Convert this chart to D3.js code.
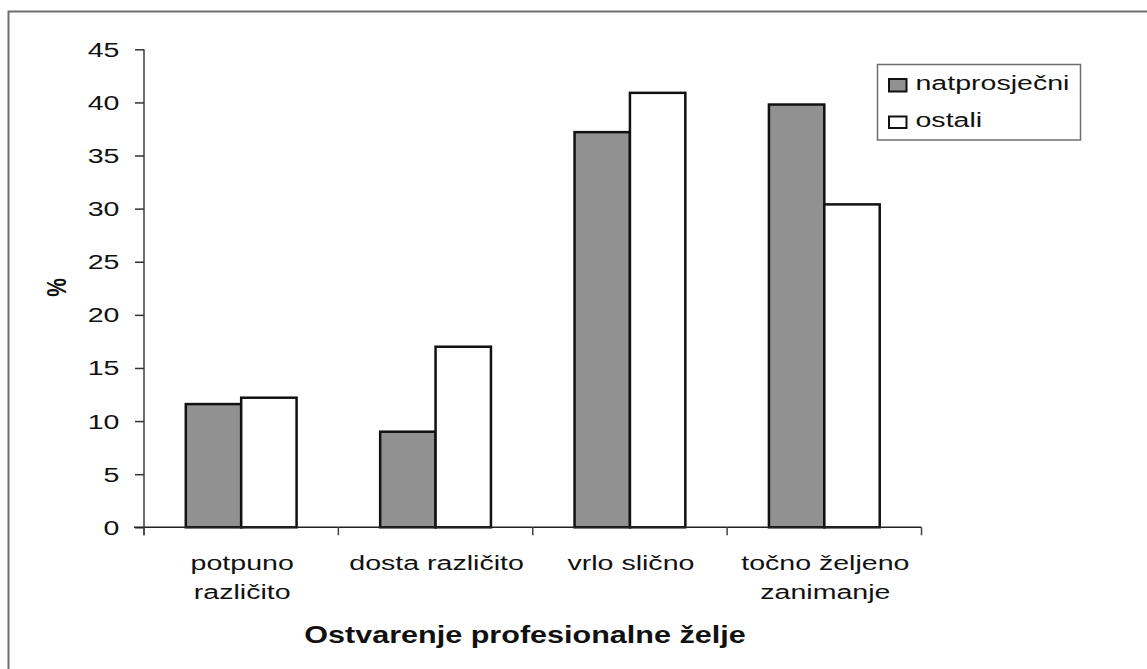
<!DOCTYPE html>
<html><head><meta charset="utf-8">
<script src="https://cdn.jsdelivr.net/npm/d3@7"></script>
<style>body{margin:0;background:#fff}text{font-family:"Liberation Sans",Arial,sans-serif}</style>
</head><body><svg id="c" width="1147" height="669"></svg>
<script>
const categories = [["potpuno","različito"],["dosta različito"],["vrlo slično"],["točno željeno","zanimanje"]];
const seriesNames = ["natprosječni","ostali"];
const natprosjecni = [11.6, 9.0, 37.2, 39.8];
const ostali = [12.2, 17.0, 40.9, 30.4];
const yTicks = [0,5,10,15,20,25,30,35,40,45];
const colors = ["#919191","#ffffff"];

(function(){
const SX = 1.36; // horizontal stretch of the original rendering
const svg = d3.select("#c");
svg.append("rect").attr("x",8.5).attr("y",11.5).attr("width",1160).attr("height",700)
  .attr("fill","#fff").attr("stroke","#6e6e6e").attr("stroke-width",2);

const pl=144, pr=921.5, pt=49.3, pb=527.3;
const x = d3.scaleBand().domain(d3.range(categories.length)).range([pl,pr]);
const y = d3.scaleLinear().domain([0,45]).range([pb,pt]);
const xs = d3.scaleBand().domain([0,1]).range([0, x.bandwidth()*0.57]);

function stext(g, tx, ty, str, opts){
  const t = g.append("text").attr("transform",`translate(${tx},${ty}) scale(${opts.sx||SX},1)`)
    .attr("text-anchor",opts.anchor||"start").attr("font-size",opts.size||21)
    .attr("font-weight",opts.weight||"normal").attr("fill","#111").text(str);
  if(opts.ls) t.attr("letter-spacing",opts.ls);
  return t;
}

// y axis
const ya = svg.append("g").attr("transform",`translate(${pl},0)`)
  .call(d3.axisLeft(y).tickValues(yTicks).tickSize(9).tickFormat(""));
ya.select(".domain").attr("stroke","#6e6e6e").attr("stroke-width",2).attr("d",`M0,${pt}V${pb+8}`);
ya.selectAll(".tick line").attr("stroke","#333").attr("stroke-width",1.5);
yTicks.forEach(v=> stext(svg, 119.5, y(v)+7.5, String(v), {anchor:"end", size:21}));

// bars
const series=[natprosjecni,ostali];
series.forEach((vals,si)=>{
  svg.append("g").selectAll("rect").data(vals).join("rect")
    .attr("x",(d,i)=>x(i)+x.bandwidth()*0.215+xs(si))
    .attr("y",d=>y(d)).attr("width",xs.bandwidth()).attr("height",d=>y(0)-y(d))
    .attr("fill",colors[si]).attr("stroke","#111").attr("stroke-width",2.5);
});

// x axis
const xa = svg.append("g").attr("transform",`translate(0,${pb})`);
xa.append("line").attr("x1",134).attr("x2",pr).attr("stroke","#222").attr("stroke-width",1.5);
const bounds = d3.range(categories.length+1).map(i=> i<categories.length? x(i) : x(i-1)+x.bandwidth());
xa.selectAll("line.t").data(bounds).join("line").attr("class","t")
  .attr("x1",d=>d).attr("x2",d=>d).attr("y1",0).attr("y2",8).attr("stroke","#444").attr("stroke-width",1.5);
categories.forEach((lines,i)=>{
  lines.forEach((ln,li)=>{
    stext(svg, x(i)+x.bandwidth()/2+1, 570+li*28.5, ln, {anchor:"middle", size:21});
  });
});

// titles
stext(svg, 525, 643, "Ostvarenje profesionalne želje", {anchor:"middle", size:23.5, weight:"bold", sx:1.3});
svg.append("text").attr("transform","translate(66,287.5) rotate(-90) scale(1,1.36)").attr("text-anchor","middle")
  .attr("font-size",21).attr("font-weight","bold").attr("fill","#111").text("%");

// legend
const lg = svg.append("g");
lg.append("rect").attr("x",877.5).attr("y",64.5).attr("width",203).attr("height",75.5)
  .attr("fill","#fff").attr("stroke","#6e6e6e").attr("stroke-width",1.5);
seriesNames.forEach((n,i)=>{
  lg.append("rect").attr("x",889).attr("y",i===0?79:116.5).attr("width",17.5).attr("height",i===0?12.5:11.5)
    .attr("fill",colors[i]).attr("stroke","#111").attr("stroke-width",2);
  stext(lg, 915.5, i===0?90:127, n, {size:21});
});
})();
</script></body></html>
